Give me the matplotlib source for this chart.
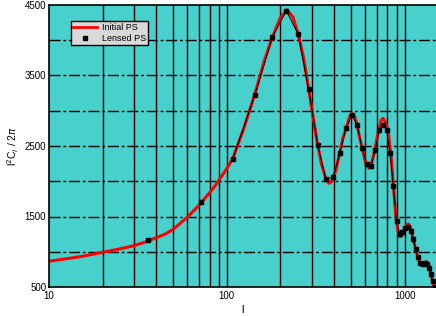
import matplotlib
matplotlib.use("Agg")
import matplotlib.pyplot as plt
from matplotlib.lines import Line2D
import numpy as np

# initial power spectrum
ell_initial = [10, 15, 20, 25, 30, 35, 40, 45, 50, 60, 70, 84, 100, 108, 125, 143,
               163, 180, 200, 218, 235, 252, 270, 290, 305, 323, 340, 360, 375, 390,
               410, 431, 450, 472, 490, 503, 520, 538, 560, 581, 604, 630, 650, 673,
               700, 722, 740, 756, 780, 806, 825, 843, 861, 889, 914, 942, 970, 1000,
               1025, 1052, 1080, 1110, 1140, 1170, 1200, 1238, 1280, 1321, 1350, 1378,
               1410, 1437, 1475, 1500]
cl_initial = [865, 930, 992, 1040, 1086, 1140, 1199, 1250, 1320, 1490, 1663, 1900, 2180,
              2320, 2760, 3220, 3720, 4040, 4320, 4430, 4330, 4090, 3750, 3280, 2920,
              2540, 2250, 2040, 1971, 2000, 2150, 2397, 2620, 2774, 2920, 2964, 2930,
              2822, 2600, 2443, 2250, 2184, 2250, 2396, 2620, 2774, 2870, 2893, 2840,
              2727, 2500, 2301, 1971, 1545, 1308, 1213, 1260, 1333, 1380, 1394, 1340,
              1213, 1090, 978, 880, 812, 835, 859, 830, 765, 670, 575, 486, 440]

# lensed power spectrum (the black squares)
ell_lensed = [36, 72, 108, 144, 180, 216, 252, 288, 324, 360, 396, 432, 468, 504, 540,
              576, 612, 648, 684, 720, 756, 792, 828, 864, 900, 936, 972, 1008, 1044,
              1080, 1116, 1152, 1188, 1224, 1260, 1296, 1332, 1368, 1404, 1440, 1476]
cl_lensed = [1160, 1700, 2320, 3230, 4040, 4420, 4085, 3310, 2520, 2030, 2060, 2400,
             2750, 2940, 2800, 2470, 2240, 2220, 2450, 2730, 2800, 2720, 2400, 1930,
             1440, 1250, 1280, 1340, 1355, 1290, 1180, 1040, 930, 840, 830, 840, 830,
             770, 680, 580, 500]

y_ticks = [500, 1500, 2500, 3500, 4500]
x_ticks = [10, 100, 1000]
x_tick_labels = ["10", "100", "1000"]

plt.rcParams['font.family'] = ['Liberation Sans', 'DejaVu Sans']

fig = plt.figure(figsize=(4.36, 3.16), dpi=100)
ax = fig.add_axes([49 / 436, 1 - 287 / 316, 387 / 436, 282 / 316])
ax.set_facecolor('#48D1CC')

ax.set_xscale('log')
ax.set_xlim(10, 1500)
ax.set_ylim(500, 4500)

# grid: solid verticals at every log tick, dash-dot horizontals
for v in list(range(20, 100, 10)) + list(range(100, 1000, 100)) + [1000]:
    ax.axvline(v, color='black', lw=1.0, zorder=1)
for h in range(1000, 4500, 500):
    ax.axhline(h, color='black', lw=1.0, ls=(0, (8, 2, 2, 2)), zorder=1)

ax.plot(ell_initial, cl_initial, color='#FF0000', lw=2.2, zorder=3)
# thin black line only where the squares are close enough to follow the curve
ax.plot(ell_lensed[2:], cl_lensed[2:], color='black', lw=0.7, zorder=4)
ax.plot(ell_lensed, cl_lensed, ls='none', marker='s', ms=2.8, color='black', zorder=5)

ax.set_yticks(y_ticks)
ax.set_yticklabels([str(t) for t in y_ticks])
ax.set_xticks(x_ticks)
ax.set_xticklabels(x_tick_labels)
ax.xaxis.set_minor_locator(matplotlib.ticker.NullLocator())
ax.tick_params(length=0, labelsize=7, pad=3)
ax.tick_params(axis='y', pad=2)

for s in ax.spines.values():
    s.set_linewidth(1.2)
    s.set_zorder(6)
ax.spines['right'].set_visible(False)

ax.set_xlabel('l', fontsize=8, labelpad=3)
ax.set_ylabel(r'l$^2$C$_l$ / 2$\pi$', fontsize=7.5, labelpad=3)

handles = [Line2D([], [], color='#FF0000', lw=2),
           Line2D([], [], ls='none', marker='s', ms=2.6, color='black')]
leg = ax.legend(handles, ['Initial PS', 'Lensed PS'], loc='upper left',
                bbox_to_anchor=(0.045, 0.96), fontsize=6.5, fancybox=False,
                framealpha=1, facecolor='#D9D9D9', edgecolor='black',
                handlelength=2.6, borderpad=0.25, labelspacing=0.2, handletextpad=0.6)
leg.get_frame().set_linewidth(1.0)
leg.set_zorder(7)

fig.savefig('out.png', dpi=100)
